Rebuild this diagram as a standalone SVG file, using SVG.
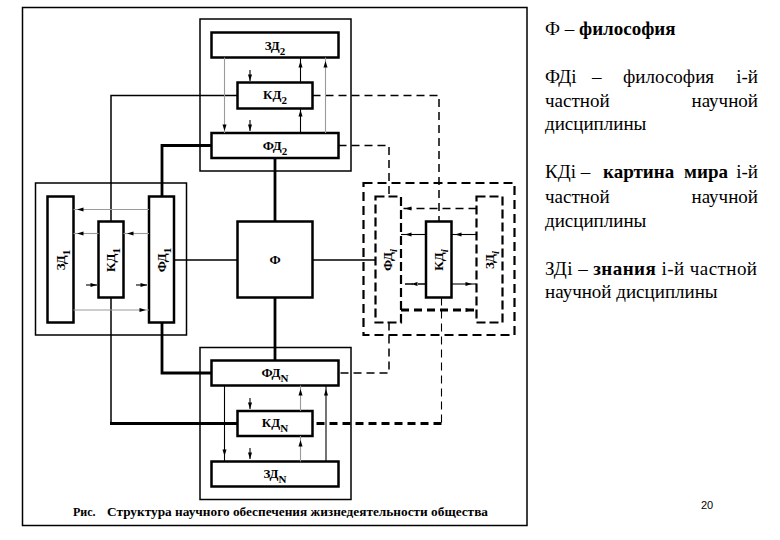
<svg xmlns="http://www.w3.org/2000/svg" width="780" height="540" viewBox="0 0 780 540">
<style>
.bg{fill:#fff}
.frame{fill:none;stroke:#000;stroke-width:1.5}
.outer{fill:#fff;stroke:#000;stroke-width:1.5}
.outerd{fill:#fff;stroke:#000;stroke-width:2.2;stroke-dasharray:9 5}
.box{fill:#fff;stroke:#000;stroke-width:2.5}
.boxd{fill:#fff;stroke:#000;stroke-width:2.2;stroke-dasharray:9 4}
.c{fill:none;stroke:#000}
.th{stroke-width:2.8}
.md{stroke-width:1.5}
.tn{stroke-width:1.1}
.g{fill:none;stroke:#9a9a9a;stroke-width:1.1}
.k{fill:none;stroke:#000;stroke-width:1.1}
.d{stroke-dasharray:8 5}
.lbl{font-family:"Liberation Serif","Times New Roman",serif;font-weight:bold;font-size:13px;fill:#000}
.sub{font-size:11px}
.txt{font-family:"Liberation Serif","Times New Roman",serif;font-size:19px;fill:#000}
.b{font-weight:bold}
.cap{font-family:"Liberation Serif","Times New Roman",serif;font-weight:bold;font-size:12px;fill:#000}
.pg{font-family:"Liberation Sans",Arial,sans-serif;font-size:11px;fill:#000}
</style>
<defs>
<path id="a" d="M0,0 L-2,-6.5 L2,-6.5 Z" fill="#000"/>
</defs>
<rect class="bg" x="0" y="0" width="780" height="540"/>
<rect class="frame" x="22.5" y="7.5" width="504.5" height="518"/>

<g id="block-2">
<rect class="outer" x="200" y="19" width="151" height="152"/>
<g id="ZD2"><rect class="box" x="211.5" y="32.5" width="127" height="25"/><text class="lbl" x="275" y="50" text-anchor="middle">ЗД<tspan class="sub" dy="5">2</tspan></text></g>
<g id="KD2"><rect class="box" x="237.5" y="82.5" width="75" height="26"/><text class="lbl" x="275" y="99" text-anchor="middle">КД<tspan class="sub" dy="5">2</tspan></text></g>
<g id="FD2"><rect class="box" x="211.5" y="133" width="127" height="25"/><text class="lbl" x="275" y="150" text-anchor="middle">ФД<tspan class="sub" dy="5">2</tspan></text></g>
</g>

<g id="block-1">
<rect class="outer" x="35.5" y="183" width="151" height="152"/>
<g id="ZD1"><rect class="box" x="47.5" y="196.5" width="26" height="126"/><text class="lbl" transform="translate(60.5,260) rotate(-90)" x="0" y="4" text-anchor="middle">ЗД<tspan class="sub" dy="5">1</tspan></text></g>
<g id="KD1"><rect class="box" x="98.5" y="221.5" width="25" height="76"/><text class="lbl" transform="translate(111,260) rotate(-90)" x="0" y="4" text-anchor="middle">КД<tspan class="sub" dy="5">1</tspan></text></g>
<g id="FD1"><rect class="box" x="149" y="196.5" width="25" height="126"/><text class="lbl" transform="translate(161.5,260) rotate(-90)" x="0" y="4" text-anchor="middle">ФД<tspan class="sub" dy="5">1</tspan></text></g>
</g>

<g id="F"><rect class="box" x="237.5" y="221.5" width="75" height="76"/><text class="lbl" x="275" y="264" text-anchor="middle">Ф</text></g>

<g id="block-i">
<rect class="outerd" x="363.5" y="183" width="151" height="152"/>
<g id="FDi"><rect class="boxd" x="375.5" y="196.5" width="25.5" height="126"/><text class="lbl" transform="translate(388,260) rotate(-90)" x="0" y="4" text-anchor="middle">ФД<tspan class="sub" dy="5" font-style="italic">i</tspan></text></g>
<g id="KDi"><rect class="box" x="426" y="221.5" width="25.5" height="76"/><text class="lbl" transform="translate(439,260) rotate(-90)" x="0" y="4" text-anchor="middle">КД<tspan class="sub" dy="5" font-style="italic">i</tspan></text></g>
<g id="ZDi"><rect class="boxd" x="476.5" y="196.5" width="26" height="126"/><text class="lbl" transform="translate(489.5,260) rotate(-90)" x="0" y="4" text-anchor="middle">ЗД<tspan class="sub" dy="5" font-style="italic">i</tspan></text></g>
</g>

<g id="block-N">
<rect class="outer" x="200" y="347.5" width="151" height="152"/>
<g id="FDN"><rect class="box" x="211.5" y="360.5" width="127" height="25"/><text class="lbl" x="275" y="377" text-anchor="middle">ФД<tspan class="sub" dy="5">N</tspan></text></g>
<g id="KDN"><rect class="box" x="237.5" y="411" width="75" height="25"/><text class="lbl" x="275" y="427" text-anchor="middle">КД<tspan class="sub" dy="5">N</tspan></text></g>
<g id="ZDN"><rect class="box" x="211.5" y="461.5" width="127" height="25"/><text class="lbl" x="275" y="478" text-anchor="middle">ЗД<tspan class="sub" dy="5">N</tspan></text></g>
</g>

<g id="connectors">
<path class="c th" d="M275,158 V221.5"/>
<path class="c th" d="M275,297.5 V360.5"/>
<path class="c md" d="M174,260 H237.5"/>
<path class="c md" d="M312.5,260 H375.5"/>
<path class="c th" d="M211.5,145.5 H162 V196.5"/>
<path class="c th" d="M162,322.5 V373 H211.5"/>
<path class="c md" d="M237.5,95.5 H111 V221.5"/>
<path class="c md" d="M111,297.5 V423.5"/>
<path class="c th" d="M110,423.5 H237.5"/>
<path class="c md d" d="M312.5,95.5 H439 V221.5"/>
<path class="c tn d" d="M441.5,297.5 V423.5"/>
<path class="c th d" d="M441.5,423.5 H312.5"/>
<path class="c md d" d="M338.5,145.5 H389 V196.5"/>
<path class="c md d" d="M389,322.5 V373 H338.5"/>

<path class="g" d="M224.5,57.5 V133"/><use href="#a" transform="translate(224.5,131)"/>
<path class="k" d="M250,70 V81"/><use href="#a" transform="translate(250,81)"/>
<path class="k" d="M250,120 V131"/><use href="#a" transform="translate(250,131)"/>
<path class="k" d="M300.5,133 V108.5"/><use href="#a" transform="translate(300.5,110) rotate(180)"/>
<path class="k" d="M300.5,82.5 V57.5"/><use href="#a" transform="translate(300.5,61) rotate(180)"/>
<path class="g" d="M325.5,133 V57.5"/><use href="#a" transform="translate(325.5,61) rotate(180)"/>

<path class="k" d="M224.5,385.5 V461.5"/><use href="#a" transform="translate(224.5,456)"/>
<path class="k" d="M250,398 V409"/><use href="#a" transform="translate(250,409)"/>
<path class="k" d="M250,448 V459"/><use href="#a" transform="translate(250,459)"/>
<path class="g" d="M300.5,411 V385.5"/><use href="#a" transform="translate(300.5,389) rotate(180)"/>
<path class="g" d="M300.5,461.5 V436"/><use href="#a" transform="translate(300.5,440) rotate(180)"/>
<path class="k" d="M326,461.5 V385.5"/><use href="#a" transform="translate(326,389) rotate(180)"/>

<path class="g" d="M149,209.5 H73.5"/><use href="#a" transform="translate(77,209.5) rotate(90)"/>
<path class="g" d="M98.5,233.5 H73.5"/><use href="#a" transform="translate(77,233.5) rotate(90)"/>
<path class="g" d="M149,233.5 H123.5"/><use href="#a" transform="translate(127,233.5) rotate(90)"/>
<path class="k" d="M86,285 H97"/><use href="#a" transform="translate(97,285) rotate(-90)"/>
<path class="k" d="M136,285 H147"/><use href="#a" transform="translate(147,285) rotate(-90)"/>
<path class="g" d="M73.5,310 H149"/><use href="#a" transform="translate(146,310) rotate(-90)"/>

<path class="c md d" d="M476.5,208.5 H401"/><use href="#a" transform="translate(405,208.5) rotate(90)"/>
<path class="k" d="M426,234.5 H401"/><use href="#a" transform="translate(405,234.5) rotate(90)"/>
<path class="k" d="M476.5,234.5 H451.5"/><use href="#a" transform="translate(455,234.5) rotate(90)"/>
<path class="c md d" d="M426,284 H401"/><use href="#a" transform="translate(411,284) rotate(90)"/>
<path class="k" d="M451.5,284 H476.5"/><use href="#a" transform="translate(472,284) rotate(-90)"/>
<path class="c th d" d="M401,310 H476.5"/><use href="#a" transform="translate(472,310) rotate(-90)"/>
</g>

<text class="cap" x="73" y="516">Рис.</text>
<text class="cap" x="107" y="516" textLength="381" lengthAdjust="spacingAndGlyphs">Структура научного обеспечения жизнедеятельности общества</text>

<g id="legend">
<text class="txt" x="545" y="35">Ф – <tspan class="b">философия</tspan></text>
<text class="txt" x="545" y="83">ФДi</text>
<text class="txt" x="592" y="83">–</text>
<text class="txt" x="623" y="83">философия</text>
<text class="txt" x="758" y="83" text-anchor="end">i-й</text>
<text class="txt" x="545" y="107">частной</text>
<text class="txt" x="758" y="107" text-anchor="end">научной</text>
<text class="txt" x="545" y="130">дисциплины</text>
<text class="txt" x="545" y="178">КДi –</text>
<text class="txt b" x="603" y="178">картина</text>
<text class="txt b" x="728" y="178" text-anchor="end">мира</text>
<text class="txt" x="758" y="178" text-anchor="end">i-й</text>
<text class="txt" x="545" y="203">частной</text>
<text class="txt" x="758" y="203" text-anchor="end">научной</text>
<text class="txt" x="545" y="227">дисциплины</text>
<text class="txt" x="545" y="275" textLength="212" lengthAdjust="spacing">ЗДi – <tspan class="b">знания</tspan> i-й частной</text>
<text class="txt" x="545" y="298">научной дисциплины</text>
</g>
<text class="pg" x="701" y="509">20</text>
</svg>
